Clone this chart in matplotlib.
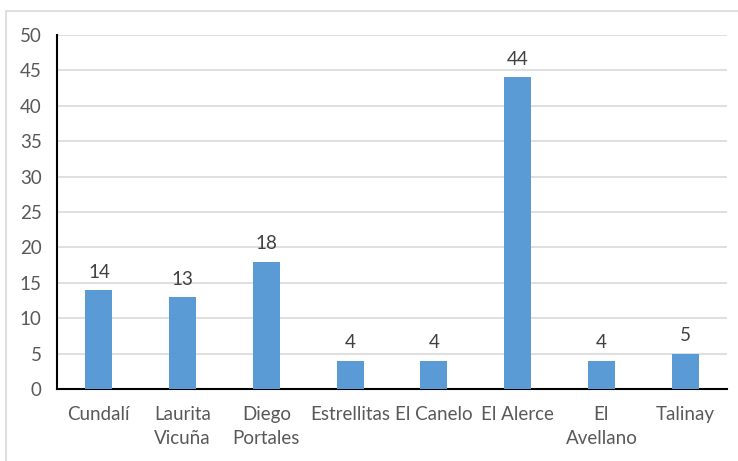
import matplotlib
matplotlib.use("Agg")
import matplotlib.pyplot as plt
from matplotlib.patches import Rectangle

# Data
categories = ["Cundalí", "Laurita\nVicuña", "Diego\nPortales", "Estrellitas",
              "El Canelo", "El Alerce", "El\nAvellano", "Talinay"]
values = [14, 13, 18, 4, 4, 44, 4, 5]
yticks = [0, 5, 10, 15, 20, 25, 30, 35, 40, 45, 50]

plt.rcParams['font.family'] = ['Lato', 'DejaVu Sans']
FS = 13.5

fig = plt.figure(figsize=(7.38, 4.61), dpi=100)

# outer chart frame (cropped at right/bottom)
fig.patches.append(Rectangle((6 / 738, -0.1), 1.0, 1 - 11 / 461 + 0.1,
                             transform=fig.transFigure, fill=False,
                             edgecolor="#d9d9d9", linewidth=1.2))

ax = fig.add_axes([57 / 738, 1 - 389 / 461, 670 / 738, (389 - 35) / 461])

x = list(range(len(categories)))
bars = ax.bar(x, values, width=0.32, color="#5b9bd5", zorder=3)

for xi, v in zip(x, values):
    ax.text(xi, v + 1.3, str(v), ha="center", va="bottom",
            fontsize=FS, color="#404040")

ax.set_xlim(-0.5, len(categories) - 0.5)
ax.set_ylim(0, 50)
ax.set_yticks(yticks)
ax.set_xticks(x)
ax.set_xticklabels(categories, fontsize=FS, color="#595959", linespacing=1.55)
ax.tick_params(axis="y", labelsize=FS, labelcolor="#595959", length=0, pad=11)
ax.tick_params(axis="x", length=0, pad=12)

ax.grid(axis="y", color="#d9d9d9", linewidth=1.2, zorder=0)
for side in ["top", "right"]:
    ax.spines[side].set_visible(False)
ax.spines["left"].set_color("black")
ax.spines["bottom"].set_color("black")
ax.spines["left"].set_linewidth(1.5)
ax.spines["bottom"].set_linewidth(1.5)

fig.savefig("out.png", dpi=100)
